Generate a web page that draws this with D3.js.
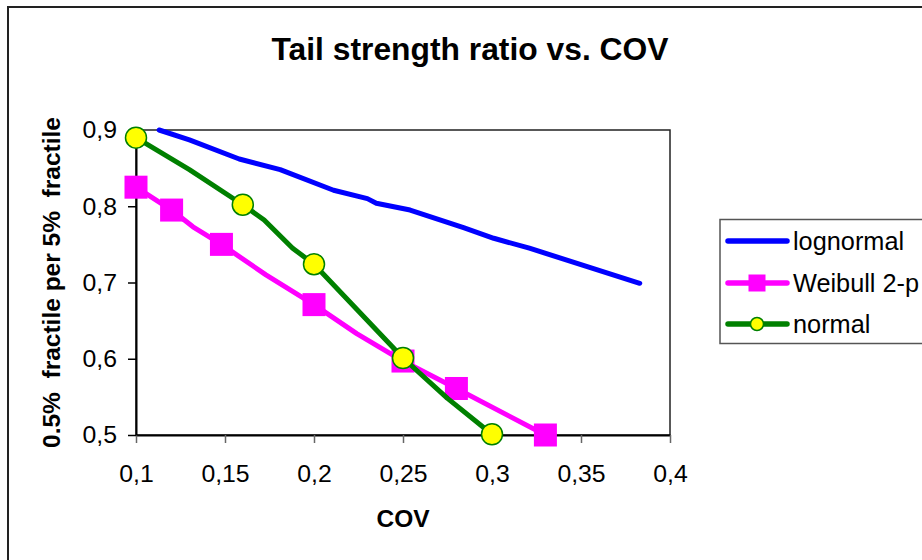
<!DOCTYPE html>
<html>
<head>
<meta charset="utf-8">
<script src="https://cdn.jsdelivr.net/npm/d3@7"></script>
<style>
  body { margin: 0; background: #fff; }
  svg { display: block; font-family: "Liberation Sans", Arial, sans-serif; }
</style>
</head>
<body>
<svg id="svg1" width="922" height="560"></svg>
<script>
// values
const xTicks = [0.1, 0.15, 0.2, 0.25, 0.3, 0.35, 0.4];
const yTicks = [0.5, 0.6, 0.7, 0.8, 0.9];

const lognormalCov = [0.113, 0.130, 0.158, 0.181, 0.211, 0.230, 0.235, 0.254, 0.284, 0.301, 0.321, 0.383];
const lognormalVal = [0.900, 0.887, 0.862, 0.848, 0.821, 0.810, 0.804, 0.795, 0.772, 0.758, 0.745, 0.699];

const weibullCov = [0.1, 0.12, 0.132, 0.148, 0.173, 0.2, 0.224, 0.25, 0.28, 0.33];
const weibullVal = [0.825, 0.795, 0.773, 0.750, 0.710, 0.671, 0.633, 0.597, 0.561, 0.500];
const weibullMarkCov = [0.1, 0.12, 0.148, 0.2, 0.25, 0.28, 0.33];
const weibullMarkVal = [0.825, 0.795, 0.750, 0.671, 0.597, 0.561, 0.500];

const normalCov = [0.1, 0.13, 0.16, 0.172, 0.188, 0.2, 0.226, 0.25, 0.275, 0.3];
const normalVal = [0.890, 0.848, 0.802, 0.782, 0.745, 0.724, 0.660, 0.601, 0.548, 0.501];
const normalMarkCov = [0.1, 0.16, 0.2, 0.25, 0.3];
const normalMarkVal = [0.890, 0.802, 0.724, 0.601, 0.501];

const seriesNames = ["lognormal", "Weibull 2-p", "normal"];

const zip = (xs, ys) => xs.map((d, i) => ({ abs: d, ord: ys[i] }));
const lognormal = zip(lognormalCov, lognormalVal);
const weibull = zip(weibullCov, weibullVal);
const weibullMarks = zip(weibullMarkCov, weibullMarkVal);
const normal = zip(normalCov, normalVal);
const normalMarks = zip(normalMarkCov, normalMarkVal);

const width = 922;
const height = 560;
const plot = {left: 136, right: 670, top: 130, bottom: 435};
const comma = d => String(d).replace(".", ",");

const x = d3.scaleLinear()
    .domain([0.1, 0.4])
    .range([plot.left, plot.right]);

const y = d3.scaleLinear()
    .domain([0.5, 0.9])
    .range([plot.bottom, plot.top]);

const line = d3.line()
    .x(({ abs }) => x(abs))
    .y(({ ord }) => y(ord));

const svg = d3.select('#svg1')
    .attr("viewBox", [0, 0, width, height]);

// chart border, runs off the right and bottom edges
svg.append("rect")
    .attr("x", 8).attr("y", 7)
    .attr("width", 1000).attr("height", 1000)
    .attr("fill", "#fff")
    .attr("stroke", "#222")
    .attr("stroke-width", 2);

svg.append("text")
    .attr("x", 470).attr("y", 60)
    .attr("text-anchor", "middle")
    .attr("font-size", 31.8)
    .attr("font-weight", "bold")
    .text("Tail strength ratio vs. COV");

// plot area frame
svg.append("rect")
    .attr("x", plot.left).attr("y", plot.top)
    .attr("width", plot.right - plot.left)
    .attr("height", plot.bottom - plot.top)
    .attr("fill", "none")
    .attr("stroke", "#222")
    .attr("stroke-width", 1.5);

const xAxis = g => g
    .attr("transform", `translate(0,${plot.bottom})`)
    .call(d3.axisBottom(x).tickValues(xTicks).tickFormat(comma)
        .tickSize(8).tickSizeOuter(0).tickPadding(21))
    .call(g => g.select(".domain").attr("stroke", "#000").attr("stroke-width", 2))
    .call(g => g.selectAll(".tick line").attr("stroke", "#666").attr("stroke-width", 1.5))
    .call(g => g.selectAll(".tick text").attr("fill", "#000")
        .attr("font-size", 24.8).attr("font-family", null));

const yAxis = g => g
    .attr("transform", `translate(${plot.left},0)`)
    .call(d3.axisLeft(y).tickValues(yTicks).tickFormat(comma)
        .tickSize(8).tickSizeOuter(0).tickPadding(11))
    .call(g => g.select(".domain").attr("stroke", "#000").attr("stroke-width", 2))
    .call(g => g.selectAll(".tick line").attr("stroke", "#000").attr("stroke-width", 1.5))
    .call(g => g.selectAll(".tick text").attr("fill", "#000")
        .attr("font-size", 24.8).attr("font-family", null));

svg.append("g").call(xAxis);
svg.append("g").call(yAxis);

svg.append("text")
    .attr("x", (plot.left + plot.right) / 2).attr("y", 527)
    .attr("text-anchor", "middle")
    .attr("font-size", 24.5)
    .attr("font-weight", "bold")
    .text("COV");

svg.append("text")
    .attr("transform", `translate(60,${(plot.top + plot.bottom) / 2}) rotate(-90)`)
    .attr("text-anchor", "middle")
    .attr("font-size", 24.5)
    .attr("font-weight", "bold")
    .style("white-space", "pre")
    .text("0.5%  fractile per 5%  fractile");

// series
const drawLine = (data, color) => svg.append("path")
    .datum(data)
    .attr("fill", "none")
    .attr("stroke", color)
    .attr("stroke-width", 5)
    .attr("stroke-linejoin", "round")
    .attr("stroke-linecap", "round")
    .attr("d", line);

drawLine(lognormal, "#0000ff");

drawLine(weibull, "#ff00ff");
svg.append("g")
  .selectAll("rect")
  .data(weibullMarks)
  .join("rect")
    .attr("x", d => x(d.abs) - 11.5)
    .attr("y", d => y(d.ord) - 11.5)
    .attr("width", 23).attr("height", 23)
    .attr("fill", "#ff00ff");

drawLine(normal, "#008000");
svg.append("g")
  .selectAll("circle")
  .data(normalMarks)
  .join("circle")
    .attr("cx", d => x(d.abs))
    .attr("cy", d => y(d.ord))
    .attr("r", 10.5)
    .attr("fill", "#ffff00")
    .attr("stroke", "#008000")
    .attr("stroke-width", 1.5);

// legend
const legend = svg.append("g");
legend.append("rect")
    .attr("x", 720).attr("y", 219.5)
    .attr("width", 300).attr("height", 124)
    .attr("fill", "#fff")
    .attr("stroke", "#555")
    .attr("stroke-width", 1.5);

const rowY = [241, 283, 324];
const colors = ["#0000ff", "#ff00ff", "#008000"];
seriesNames.forEach((name, i) => {
  legend.append("line")
      .attr("x1", 728).attr("x2", 787)
      .attr("y1", rowY[i]).attr("y2", rowY[i])
      .attr("stroke", colors[i])
      .attr("stroke-width", 5.5)
      .attr("stroke-linecap", "round");
  if (i === 1) {
    legend.append("rect")
        .attr("x", 757 - 8.5).attr("y", rowY[i] - 8.5)
        .attr("width", 17).attr("height", 17)
        .attr("fill", "#ff00ff");
  }
  if (i === 2) {
    legend.append("circle")
        .attr("cx", 757).attr("cy", rowY[i])
        .attr("r", 6.5)
        .attr("fill", "#ffff00")
        .attr("stroke", "#008000")
        .attr("stroke-width", 1.5);
  }
  legend.append("text")
      .attr("x", 793).attr("y", rowY[i] + 8.5)
      .attr("font-size", 25.3)
      .text(name);
});
</script>
</body>
</html>
